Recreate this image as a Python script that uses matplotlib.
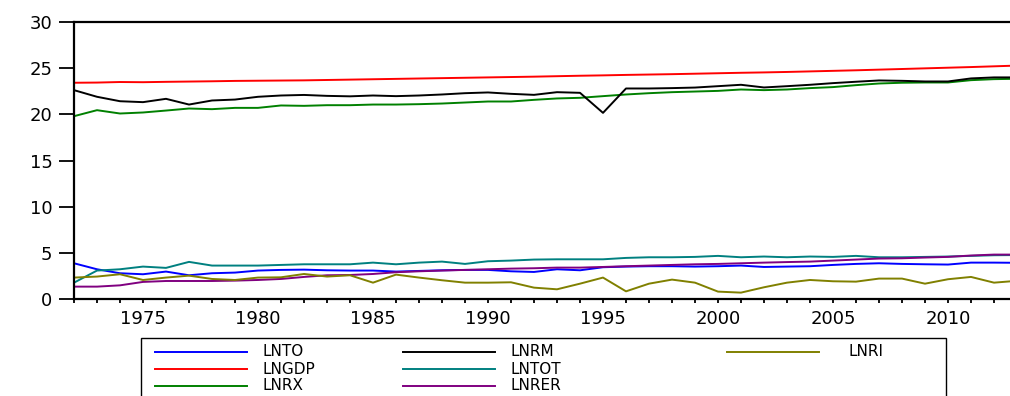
import matplotlib.pyplot as plt
from matplotlib.lines import Line2D
from matplotlib.patches import Rectangle
from matplotlib.ticker import MultipleLocator

years = list(range(1972, 2014))

lnto = [3.87, 3.22, 2.79, 2.68, 2.97, 2.57, 2.79, 2.86, 3.08, 3.15,
        3.18, 3.11, 3.08, 3.08, 2.97, 3.04, 3.11, 3.15, 3.15, 3.00,
        2.93, 3.22, 3.11, 3.44, 3.51, 3.55, 3.55, 3.51, 3.55, 3.62,
        3.47, 3.51, 3.55, 3.69, 3.80, 3.87, 3.80, 3.76, 3.73, 3.94,
        3.94, 3.92]
lngdp = [23.42, 23.44, 23.50, 23.48, 23.52, 23.55, 23.58, 23.62, 23.64, 23.66,
         23.68, 23.72, 23.76, 23.80, 23.84, 23.88, 23.92, 23.96, 24.00, 24.04,
         24.08, 24.13, 24.18, 24.22, 24.27, 24.31, 24.35, 24.40, 24.45, 24.50,
         24.54, 24.59, 24.65, 24.71, 24.77, 24.84, 24.91, 24.98, 25.05, 25.12,
         25.20, 25.28]
lnrx = [19.80, 20.45, 20.09, 20.20, 20.41, 20.63, 20.56, 20.70, 20.70, 20.96,
        20.92, 20.99, 20.99, 21.06, 21.06, 21.10, 21.17, 21.28, 21.39, 21.39,
        21.57, 21.72, 21.79, 21.97, 22.15, 22.29, 22.40, 22.47, 22.54, 22.69,
        22.62, 22.69, 22.84, 22.95, 23.16, 23.34, 23.42, 23.45, 23.45, 23.70,
        23.81, 23.85]
lnrm = [22.62, 21.90, 21.42, 21.32, 21.68, 21.06, 21.50, 21.60, 21.90, 22.04,
        22.10, 22.00, 21.95, 22.04, 21.97, 22.04, 22.15, 22.29, 22.37, 22.22,
        22.11, 22.40, 22.33, 20.16, 22.80, 22.80, 22.84, 22.90, 23.05, 23.20,
        22.91, 23.05, 23.20, 23.38, 23.53, 23.67, 23.63, 23.56, 23.56, 23.89,
        24.00, 24.00]
lntot = [1.77, 3.08, 3.22, 3.51, 3.37, 4.02, 3.62, 3.62, 3.62, 3.69,
         3.76, 3.76, 3.76, 3.94, 3.76, 3.94, 4.05, 3.80, 4.09, 4.16,
         4.27, 4.30, 4.30, 4.30, 4.45, 4.52, 4.52, 4.56, 4.67, 4.52,
         4.60, 4.52, 4.60, 4.56, 4.67, 4.52, 4.52, 4.56, 4.60, 4.67,
         4.74, 4.76]
lnrer = [1.34, 1.34, 1.48, 1.85, 1.95, 1.95, 1.95, 1.99, 2.06, 2.17,
         2.39, 2.57, 2.60, 2.71, 2.90, 3.00, 3.08, 3.15, 3.22, 3.29,
         3.33, 3.40, 3.40, 3.47, 3.55, 3.62, 3.69, 3.76, 3.80, 3.87,
         3.94, 4.00, 4.05, 4.16, 4.27, 4.38, 4.41, 4.49, 4.56, 4.71,
         4.81, 4.81]
lnri = [2.32, 2.43, 2.68, 2.06, 2.32, 2.53, 2.17, 2.06, 2.32, 2.35,
        2.71, 2.43, 2.57, 1.77, 2.64, 2.32, 2.03, 1.77, 1.77, 1.81,
        1.23, 1.05, 1.66, 2.32, 0.83, 1.66, 2.10, 1.77, 0.80, 0.69,
        1.27, 1.77, 2.06, 1.92, 1.88, 2.21, 2.21, 1.66, 2.14, 2.39,
        1.77, 1.97]

series = [
    ('LNTO', lnto, '#0000ff'),
    ('LNGDP', lngdp, '#ff0000'),
    ('LNRX', lnrx, '#008000'),
    ('LNRM', lnrm, '#000000'),
    ('LNTOT', lntot, '#008080'),
    ('LNRER', lnrer, '#800080'),
    ('LNRI', lnri, '#808000'),
]

W, H = 1010, 396
plt.rcParams['font.family'] = ['DejaVu Sans']

fig = plt.figure(figsize=(W / 100, H / 100), dpi=100)
ax = fig.add_axes([74 / W, 1 - 299 / H, (1017 - 74) / W, (299 - 22) / H])

for name, vals, col in series:
    ax.plot(years, vals, color=col, lw=1.4, label=name)

ax.set_xlim(1972, 2013)
ax.set_ylim(0, 30)
ax.spines['right'].set_visible(False)
for s in ['left', 'bottom', 'top']:
    ax.spines[s].set_linewidth(1.6)

ax.xaxis.set_major_locator(MultipleLocator(5))
ax.xaxis.set_minor_locator(MultipleLocator(1))
ax.yaxis.set_major_locator(MultipleLocator(5))
ax.tick_params(axis='y', length=10.5, width=1.3, pad=5, labelsize=13)
ax.tick_params(axis='x', which='both', length=3, width=1.3, pad=5, labelsize=13)


def fx(px):
    return px / W


def fy(py):
    return 1 - py / H


# legend drawn by hand, EViews style: three columns at fixed offsets
fig.add_artist(Rectangle((fx(141), fy(420)), fx(946) - fx(141), fy(338) - fy(420),
                         transform=fig.transFigure, fill=False, lw=1.0, ec='black'))

slots = {
    'LNTO': (155, 262, 352), 'LNRM': (403, 510, 352), 'LNRI': (727, 848, 352),
    'LNGDP': (155, 262, 369), 'LNTOT': (403, 510, 369),
    'LNRX': (155, 262, 386), 'LNRER': (403, 510, 386),
}
for name, vals, col in series:
    x0, xt, yy = slots[name]
    fig.add_artist(Line2D([fx(x0), fx(x0 + 92)], [fy(yy), fy(yy)],
                          transform=fig.transFigure, color=col, lw=1.4))
    fig.text(fx(xt), fy(yy), name, fontsize=11, va='center', ha='left')

fig.savefig('out.png', dpi=100)
